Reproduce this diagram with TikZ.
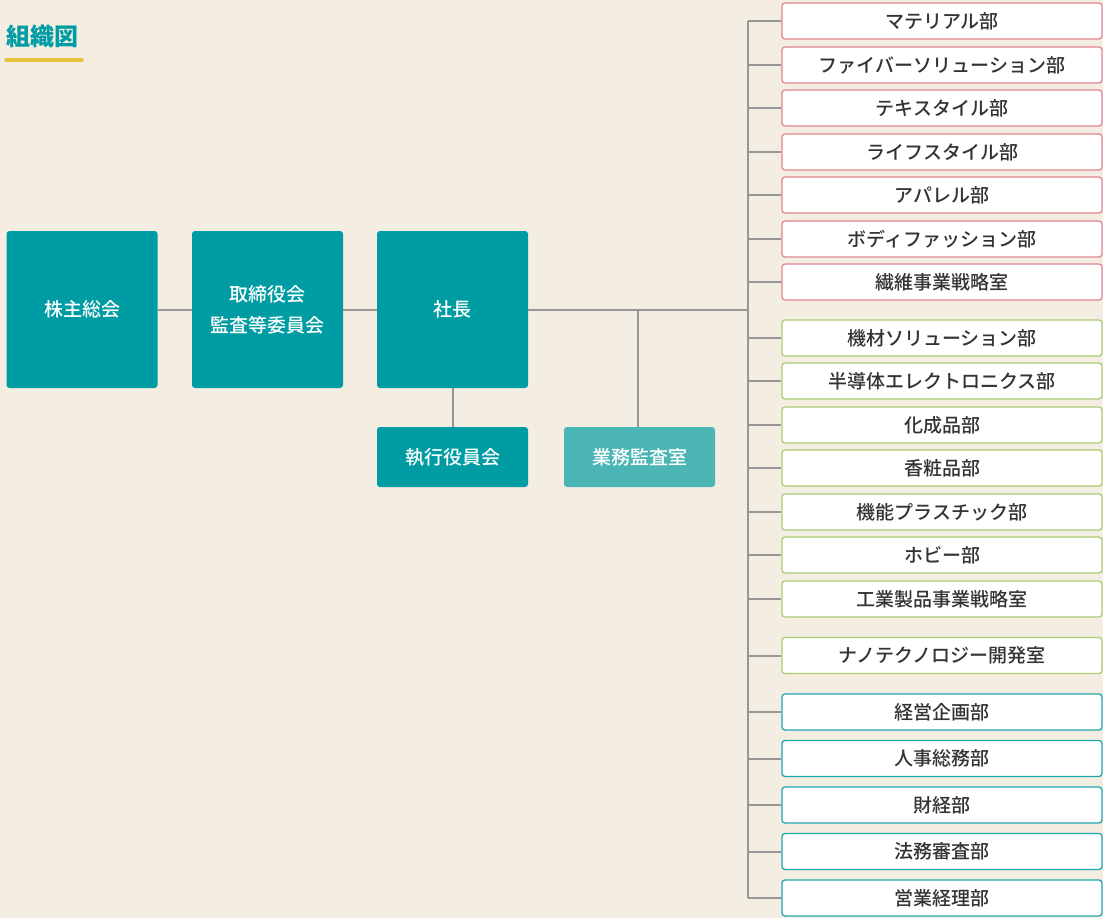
\documentclass[tikz,border=0pt]{standalone}
\usepackage{fontspec}
\setmainfont{Noto Sans CJK JP}[BoldFont={Noto Sans CJK JP Medium}]
\newfontfamily\titlefont{Noto Sans CJK JP}
\definecolor{bg}{HTML}{F4EDE2}
\definecolor{teal}{HTML}{009CA3}
\definecolor{lightteal}{HTML}{4CB6B7}
\definecolor{pinkline}{HTML}{E0868F}
\definecolor{greenline}{HTML}{A9CD72}
\definecolor{tealline}{HTML}{1FA7AE}
\definecolor{wire}{HTML}{969696}
\definecolor{txt}{HTML}{333333}
\definecolor{bar}{HTML}{E5C238}
\begin{document}
\begin{tikzpicture}[x=1pt, y=-1pt,
	bigbox/.style = {fill=teal, text=white, rounded corners=3pt, minimum width=151pt, minimum height=157pt, font=\bfseries\fontsize{19}{31}\selectfont, align=center},
	smallbox/.style = {fill=teal, text=white, rounded corners=3pt, minimum width=151pt, minimum height=60pt, font=\bfseries\fontsize{19}{22}\selectfont},
	dept/.style = {fill=white, text=txt, rounded corners=3pt, line width=1.3pt, minimum width=320pt, minimum height=36pt, font=\bfseries\fontsize{19}{22}\selectfont},
	fiber/.style = {dept, draw=pinkline},
	industry/.style = {dept, draw=greenline},
	staff/.style = {dept, draw=tealline},
	wire/.style = {draw=wire, line width=2pt}]

	\fill [bg] (0,0) rectangle (1103,918);
	\useasboundingbox (0,0) rectangle (1103,918);

	% title
	\node [anchor=west, text=teal, font=\titlefont\bfseries\fontsize{24}{26}\selectfont, inner sep=0pt] (title) at (6,36) {組織図};
	\draw [bar, line width=3.5pt, line cap=round] (6,60) -- (82,60);

	% management
	\node [bigbox] (kabunushi) at (82,309.5) {株主総会};
	\node [bigbox] (torishimari) at (267.5,309.5) {取締役会\\監査等委員会};
	\node [bigbox] (shacho) at (452.5,309.5) {社長};
	\node [smallbox] (shikko) at (452.5,457) {執行役員会};
	\node [smallbox, fill=lightteal] (kansa) at (639.5,457) {業務監査室};

	\coordinate (bus) at (748,309.5);
	\coordinate (fork) at (638,309.5);

	\draw [wire] (kabunushi.east) -- (torishimari.west);
	\draw [wire] (torishimari.east) -- (shacho.west);
	\draw [wire] (shacho.east) -- (bus);
	\draw [wire] (shacho.south) -- (shikko.north);
	\draw [wire] (fork) -- (fork |- kansa.north);

	% fibers
	\node [fiber] (material) at (942,21) {マテリアル部};
	\node [fiber] (fibersol) at (942,65) {ファイバーソリューション部};
	\node [fiber] (textile) at (942,108) {テキスタイル部};
	\node [fiber] (lifestyle) at (942,152) {ライフスタイル部};
	\node [fiber] (apparel) at (942,195) {アパレル部};
	\node [fiber] (body) at (942,239) {ボディファッション部};
	\node [fiber] (seni) at (942,282) {繊維事業戦略室};

	% industrial products
	\node [industry] (kizai) at (942,338) {機材ソリューション部};
	\node [industry] (semi) at (942,381) {半導体エレクトロニクス部};
	\node [industry] (kasei) at (942,425) {化成品部};
	\node [industry] (kosho) at (942,468) {香粧品部};
	\node [industry] (plastic) at (942,512) {機能プラスチック部};
	\node [industry] (hobby) at (942,555) {ホビー部};
	\node [industry] (kogyo) at (942,599) {工業製品事業戦略室};
	\node [industry] (nano) at (942,655.5) {ナノテクノロジー開発室};

	% staff
	\node [staff] (kikaku) at (942,712) {経営企画部};
	\node [staff] (jinji) at (942,758.5) {人事総務部};
	\node [staff] (zaikei) at (942,805) {財経部};
	\node [staff] (homu) at (942,851.5) {法務審査部};
	\node [staff] (eigyo) at (942,898) {営業経理部};

	\draw [wire] (bus |- material.west) -- (bus |- eigyo.west);
	\draw [wire] (bus |- material.west) -- (material.west);
	\draw [wire] (bus |- fibersol.west) -- (fibersol.west);
	\draw [wire] (bus |- textile.west) -- (textile.west);
	\draw [wire] (bus |- lifestyle.west) -- (lifestyle.west);
	\draw [wire] (bus |- apparel.west) -- (apparel.west);
	\draw [wire] (bus |- body.west) -- (body.west);
	\draw [wire] (bus |- seni.west) -- (seni.west);
	\draw [wire] (bus |- kizai.west) -- (kizai.west);
	\draw [wire] (bus |- semi.west) -- (semi.west);
	\draw [wire] (bus |- kasei.west) -- (kasei.west);
	\draw [wire] (bus |- kosho.west) -- (kosho.west);
	\draw [wire] (bus |- plastic.west) -- (plastic.west);
	\draw [wire] (bus |- hobby.west) -- (hobby.west);
	\draw [wire] (bus |- kogyo.west) -- (kogyo.west);
	\draw [wire] (bus |- nano.west) -- (nano.west);
	\draw [wire] (bus |- kikaku.west) -- (kikaku.west);
	\draw [wire] (bus |- jinji.west) -- (jinji.west);
	\draw [wire] (bus |- zaikei.west) -- (zaikei.west);
	\draw [wire] (bus |- homu.west) -- (homu.west);
	\draw [wire] (bus |- eigyo.west) -- (eigyo.west);

\end{tikzpicture}
\end{document}
